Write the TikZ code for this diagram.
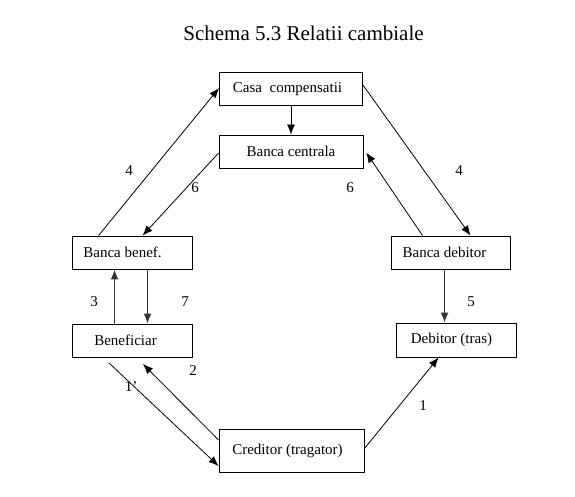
\documentclass[tikz,border=0pt]{standalone}
\usepackage{fontspec}
\setmainfont{Liberation Serif}
\usetikzlibrary{arrows.meta,calc}
\tikzset{
  box/.style={draw=black, line width=0.9pt, minimum height=33pt, inner sep=0pt, font=\fontsize{15}{18}\selectfont},
  shl/.style={execute at end node={\hspace*{#1}}},
  lbl/.style={font=\fontsize{15}{18}\selectfont, inner sep=0pt},
  arr/.style={-{Latex[length=10pt,width=8pt]}, line width=0.8pt},
  varr/.style={-{Latex[length=10pt,width=8pt]}, line width=1.5pt, draw=black!80}
}
\begin{document}
\begin{tikzpicture}[x=1pt,y=-1pt]
\useasboundingbox (0,0) rectangle (575,496);
\node[font=\fontsize{21}{25}\selectfont, anchor=base, inner sep=0pt] (title) at (303.5,40) {Schema 5.3 Relatii cambiale};

\node[box, minimum width=143pt, shl=7pt] (casa) at (291,89) {Casa\ \ compensatii};
\node[box, minimum width=144pt] (centrala) at (291,151.5) {Banca centrala};
\node[box, minimum width=120pt, shl=19pt] (bbenef) at (132,252.5) {Banca benef.};
\node[box, minimum width=120pt, shl=13pt] (benef) at (132,340.5) {Beneficiar};
\node[box, minimum width=119pt, shl=12pt] (bdeb) at (450.5,252.5) {Banca debitor};
\node[box, minimum width=120pt, minimum height=34pt, shl=9pt] (deb) at (456,340) {Debitor (tras)};
\node[box, minimum width=145pt, minimum height=43pt, shl=8pt] (cred) at (291.5,450.5) {Creditor (tragator)};

\coordinate (f1) at (109,363);
\coordinate (f2) at (143,364);

% connectors
\draw[arr] ([xshift=27pt]bbenef.north west) -- ([yshift=1pt]casa.west);
\draw[arr] ([yshift=-1.5pt]centrala.west) -- ([xshift=71pt]bbenef.north west);
\draw[arr] ([yshift=4pt]casa.east) -- ([xshift=80pt]bdeb.north west);
\draw[arr, shorten >=5pt] ([xshift=32pt]bdeb.north west) -- ([yshift=3pt]centrala.east);
\draw[arr] (casa.south) -- (centrala.north);
\draw[varr] ([xshift=43pt]benef.north west) -- ([xshift=43pt]bbenef.south west);
\draw[varr] ([xshift=76pt]bbenef.south west) -- ([xshift=76pt]benef.north west);
\draw[varr] ([xshift=54pt]bdeb.south west) -- ([xshift=49pt]deb.north west);
\draw[arr] (f1) -- ([yshift=-15.5pt]cred.west);
\draw[arr] ([yshift=10.5pt]cred.west) -- (f2);
\draw[arr] ([yshift=2pt]cred.east) -- ([xshift=43pt]deb.south west);

% labels
\node[lbl] (l4a) at (129,171) {4};
\node[lbl] (l6a) at (195,188) {6};
\node[lbl] (l4b) at (459,171) {4};
\node[lbl] (l6b) at (350,188) {6};
\node[lbl] (l3) at (94,302) {3};
\node[lbl] (l7) at (185,302) {7};
\node[lbl] (l5) at (471,302) {5};
\node[lbl] (l1p) at (131,387) {1'};
\node[lbl] (l2) at (193,371) {2};
\node[lbl] (l1) at (423,406) {1};
\end{tikzpicture}
\end{document}
